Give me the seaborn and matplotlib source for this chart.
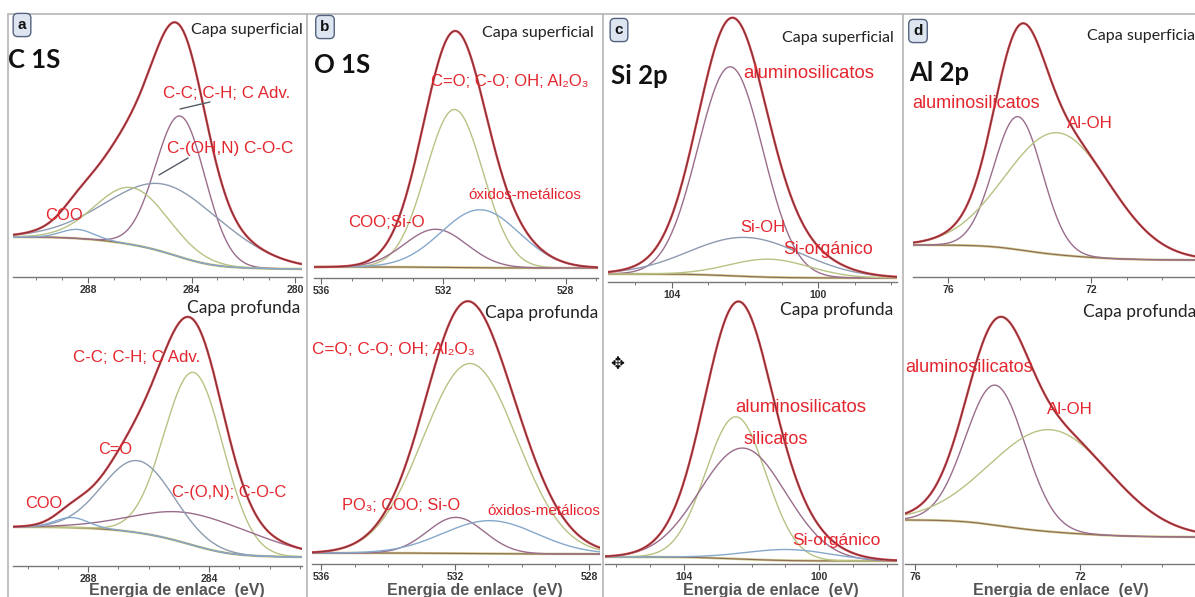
import numpy as np
import pandas as pd
import matplotlib
matplotlib.use("Agg")
import matplotlib.pyplot as plt
import seaborn as sns
from matplotlib.ticker import MultipleLocator
from matplotlib.lines import Line2D

W, H = 1195, 597

# ------------------------------------------------------------------
# DATA: fitted peak components of each spectrum
# (centre in eV, height in intensity units, FWHM in eV) and the
# background level at the low / high binding-energy ends.
# ------------------------------------------------------------------
# a) C 1s
a_sup_labels = ["C-C; C-H; C Adv.", "C-(OH,N) C-O-C", "C=O", "COO"]
a_sup_center = [284.42, 284.90, 286.30, 288.40]
a_sup_height = [141, 68, 57, 9]
a_sup_fwhm = [2.25, 5.3, 3.3, 1.5]
a_sup_bg = [8, 40]

a_pro_labels = ["C-C; C-H; C Adv.", "C-(O,N); C-O-C", "C=O", "COO"]
a_pro_center = [284.50, 284.20, 286.35, 288.54]
a_pro_height = [173, 32, 72, 10]
a_pro_fwhm = [2.3, 4.6, 2.75, 1.3]
a_pro_bg = [9, 39]

# b) O 1s
b_sup_labels = ["C=O; C-O; OH; Al₂O₃", "COO;Si-O", "óxidos-metálicos"]
b_sup_center = [531.64, 532.25, 530.80]
b_sup_height = [158, 38, 58]
b_sup_fwhm = [2.2, 2.4, 3.0]
b_sup_bg = [10, 11]

b_pro_labels = ["C=O; C-O; OH; Al₂O₃", "PO₃; COO; Si-O", "óxidos-metálicos"]
b_pro_center = [531.55, 531.97, 530.95]
b_pro_height = [190, 36, 33]
b_pro_fwhm = [3.3, 2.0, 3.3]
b_pro_bg = [10, 11]

# c) Si 2p
c_sup_labels = ["aluminosilicatos", "Si-OH", "Si-orgánico"]
c_sup_center = [102.40, 101.96, 101.33]
c_sup_height = [209, 39, 18]
c_sup_fwhm = [2.1, 3.6, 2.6]
c_sup_bg = [4, 8]

c_pro_labels = ["aluminosilicatos", "silicatos", "Si-orgánico"]
c_pro_center = [102.46, 102.25, 100.90]
c_pro_height = [142, 111, 11]
c_pro_fwhm = [2.1, 3.0, 3.0]
c_pro_bg = [3, 7]

# d) Al 2p
d_sup_labels = ["aluminosilicatos", "Al-OH"]
d_sup_center = [74.04, 72.92]
d_sup_height = [133, 122]
d_sup_fwhm = [1.6, 3.4]
d_sup_bg = [17, 32]

d_pro_labels = ["aluminosilicatos", "Al-OH"]
d_pro_center = [74.05, 72.70]
d_pro_height = [140, 102]
d_pro_fwhm = [1.7, 3.4]
d_pro_bg = [27, 44]

# axis ranges (eV, left -> right, binding energy decreasing)
xlims = {
    "a_sup": (290.9, 279.73), "a_pro": (290.48, 280.93),
    "b_sup": (536.23, 526.95), "b_pro": (536.27, 527.67),
    "c_sup": (105.75, 97.84), "c_pro": (106.34, 97.69),
    "d_sup": (76.98, 69.09), "d_pro": (76.24, 69.21),
}

# ------------------------------------------------------------------
# STYLE / LAYOUT
# ------------------------------------------------------------------
MAUVE, GREYBL, YELG, BLUE = "#9a6d8c", "#8d9bb0", "#b8c283", "#86a8cc"
comp_colors = {
    "a_sup": [MAUVE, GREYBL, YELG, BLUE],
    "a_pro": [YELG, MAUVE, GREYBL, BLUE],
    "b_sup": [YELG, MAUVE, BLUE],
    "b_pro": [YELG, MAUVE, BLUE],
    "c_sup": [MAUVE, GREYBL, YELG],
    "c_pro": [YELG, MAUVE, BLUE],
    "d_sup": [MAUVE, YELG],
    "d_pro": [MAUVE, YELG],
}
# pixel boxes: x0, x1, ytop, ybottom (axis line)
boxes = {
    "a_sup": (13, 302, 14, 277), "a_pro": (13, 302, 296, 566),
    "b_sup": (314, 598, 14, 278), "b_pro": (312, 600, 296, 564),
    "c_sup": (608, 897, 14, 282), "c_pro": (605, 897, 296, 564),
    "d_sup": (913, 1195, 14, 277), "d_pro": (905, 1195, 296, 564),
}
panels = {
    "a_sup": (a_sup_center, a_sup_height, a_sup_fwhm, a_sup_bg),
    "a_pro": (a_pro_center, a_pro_height, a_pro_fwhm, a_pro_bg),
    "b_sup": (b_sup_center, b_sup_height, b_sup_fwhm, b_sup_bg),
    "b_pro": (b_pro_center, b_pro_height, b_pro_fwhm, b_pro_bg),
    "c_sup": (c_sup_center, c_sup_height, c_sup_fwhm, c_sup_bg),
    "c_pro": (c_pro_center, c_pro_height, c_pro_fwhm, c_pro_bg),
    "d_sup": (d_sup_center, d_sup_height, d_sup_fwhm, d_sup_bg),
    "d_pro": (d_pro_center, d_pro_height, d_pro_fwhm, d_pro_bg),
}

sns.set_theme(style="white")
plt.rcParams["font.family"] = ["Liberation Sans", "DejaVu Sans"]

fig = plt.figure(figsize=(W / 100, H / 100), dpi=100)
fig.patch.set_facecolor("white")


def fx(x):
    return x / W


def fy(y):
    return 1 - y / H


def build(centers, heights, fwhms, bg, E):
    comps = [h * np.exp(-4 * np.log(2) * ((E - c) / w) ** 2)
             for c, h, w in zip(centers, heights, fwhms)]
    total = np.sum(comps, axis=0)
    cum = np.cumsum(total)
    cum = cum / cum[-1]
    background = bg[0] + (bg[1] - bg[0]) * cum  # Shirley-type step
    return comps, background


for key, (cen, hei, fw, bg) in panels.items():
    x0, x1, yt, yb = boxes[key]
    ax = fig.add_axes([fx(x0), fy(yb), (x1 - x0) / W, (yb - yt) / H])
    ax.set_facecolor("none")
    lo, hi = sorted(xlims[key])
    E = np.linspace(lo, hi, 900)
    comps, background = build(cen, hei, fw, bg, E)
    env = background + np.sum(comps, axis=0)

    sns.lineplot(x=E, y=background, ax=ax, color="#cfc98a", lw=1.8, estimator=None, sort=False)
    sns.lineplot(x=E, y=background, ax=ax, color="#8c6a58", lw=0.8, estimator=None, sort=False)
    for comp, col in zip(comps, comp_colors[key]):
        sns.lineplot(x=E, y=background + comp, ax=ax, color=col, lw=1.0,
                     estimator=None, sort=False)
    sns.lineplot(x=E, y=env, ax=ax, color="#dc4a52", lw=1.7, estimator=None, sort=False)
    sns.lineplot(x=E, y=env, ax=ax, color="#7d3338", lw=0.8, estimator=None, sort=False)

    ax.set_xlim(*xlims[key])
    ax.set_ylim(0, yb - yt)
    for s in ["top", "left", "right"]:
        ax.spines[s].set_visible(False)
    ax.spines["bottom"].set_color("#777777")
    ax.spines["bottom"].set_linewidth(1.0)
    ax.set_yticks([])
    ax.xaxis.set_major_locator(MultipleLocator(4))
    ax.xaxis.set_minor_locator(MultipleLocator(1))
    ax.tick_params(axis="x", which="major", direction="out", length=4, width=0.8,
                   color="#666666", pad=2, labelsize=7.5, labelcolor="#333333", bottom=True)
    ax.tick_params(axis="x", which="minor", direction="out", length=2, width=0.7,
                   color="#777777", bottom=True)
    for lab in ax.get_xticklabels():
        lab.set_fontweight("bold")
    ax.set_xlabel("")
    ax.set_ylabel("")
    ax.grid(False)

# ---- frame lines ----
GRAY = "#b5b5b5"
fig.add_artist(Line2D([fx(8), fx(1195)], [fy(14), fy(14)], color=GRAY, lw=1.2, transform=fig.transFigure))
for xv in [8, 307, 603, 903]:
    fig.add_artist(Line2D([fx(xv), fx(xv)], [fy(14), fy(597)], color=GRAY, lw=1.2,
                          transform=fig.transFigure))


def txt(x, y, s, **kw):
    kw.setdefault("va", "center")
    kw.setdefault("ha", "left")
    fig.text(fx(x), fy(y), s, **kw)


RED = "#e3262e"
BOX = dict(boxstyle="round,pad=0.3,rounding_size=0.3", fc="#dde5f1", ec="#53627f", lw=1.0)

# panel letters and titles
for letter, (x, y) in zip("abcd", [(22, 25), (325, 27), (619, 30), (918, 31)]):
    txt(x, y, letter, ha="center", fontsize=11, fontweight="bold", color="#111111", bbox=BOX)
for title, (x, y) in zip(["C 1S", "O 1S", "Si 2p", "Al 2p"],
                         [(8, 60), (314, 65), (611, 76), (909, 73)]):
    txt(x, y, title, fontsize=18.5, fontweight="bold", family=["Lato", "DejaVu Sans"], color="#111111")

# layer captions
CAP = dict(family=["Lato", "DejaVu Sans"], color="#222222")
for x, y in [(191, 30), (482, 33), (782, 38), (1087, 36)]:
    txt(x, y, "Capa superficial", fontsize=11.5, **CAP)
for x, y in [(187, 308), (485, 313), (780, 310), (1083, 312)]:
    txt(x, y, "Capa profunda", fontsize=12.5, **CAP)

# component labels (red)
red_labels = [
    (163, 93, a_sup_labels[0], 12.2), (167, 148, a_sup_labels[1], 12.3), (45, 216, a_sup_labels[3], 12),
    (73, 358, a_pro_labels[0], 12.2), (98, 449, a_pro_labels[2], 11.8),
    (172, 492, a_pro_labels[1], 11.9), (25, 504, a_pro_labels[3], 11.8),
    (431, 82, b_sup_labels[0], 12), (468, 195, b_sup_labels[2], 11), (348, 222, b_sup_labels[1], 12.2),
    (312, 350, b_pro_labels[0], 12.3), (342, 506, b_pro_labels[1], 11.8), (487, 511, b_pro_labels[2], 11),
    (743, 73, c_sup_labels[0], 13.4), (740, 228, c_sup_labels[1], 12), (783, 250, c_sup_labels[2], 12.8),
    (735, 407, c_pro_labels[0], 13.4), (743, 440, c_pro_labels[1], 13), (792, 540, c_pro_labels[2], 12.6),
    (912, 103, d_sup_labels[0], 13), (1067, 123, d_sup_labels[1], 12.2),
    (905, 367, d_pro_labels[0], 13), (1047, 410, d_pro_labels[1], 12.2),
]
for x, y, s, size in red_labels:
    txt(x, y, s, fontsize=size, color=RED)

# leader lines in panel a
for (xa, ya), (xb, yb_) in [((180, 109), (210, 102)), ((159, 175), (188, 158))]:
    fig.add_artist(Line2D([fx(xa), fx(xb)], [fy(ya), fy(yb_)], color="#555c66", lw=1.0,
                          transform=fig.transFigure))

# x-axis titles
for x in [177, 475, 771, 1061]:
    txt(x, 590, "Energia de enlace  (eV)", ha="center", fontsize=11.5, fontweight="bold", color="#555555")

# cursor mark in panel c
txt(617, 364, "✥", ha="center", fontsize=12, family=["DejaVu Sans"], color="#111111")

fig.savefig("out.png", dpi=100, facecolor="white")
